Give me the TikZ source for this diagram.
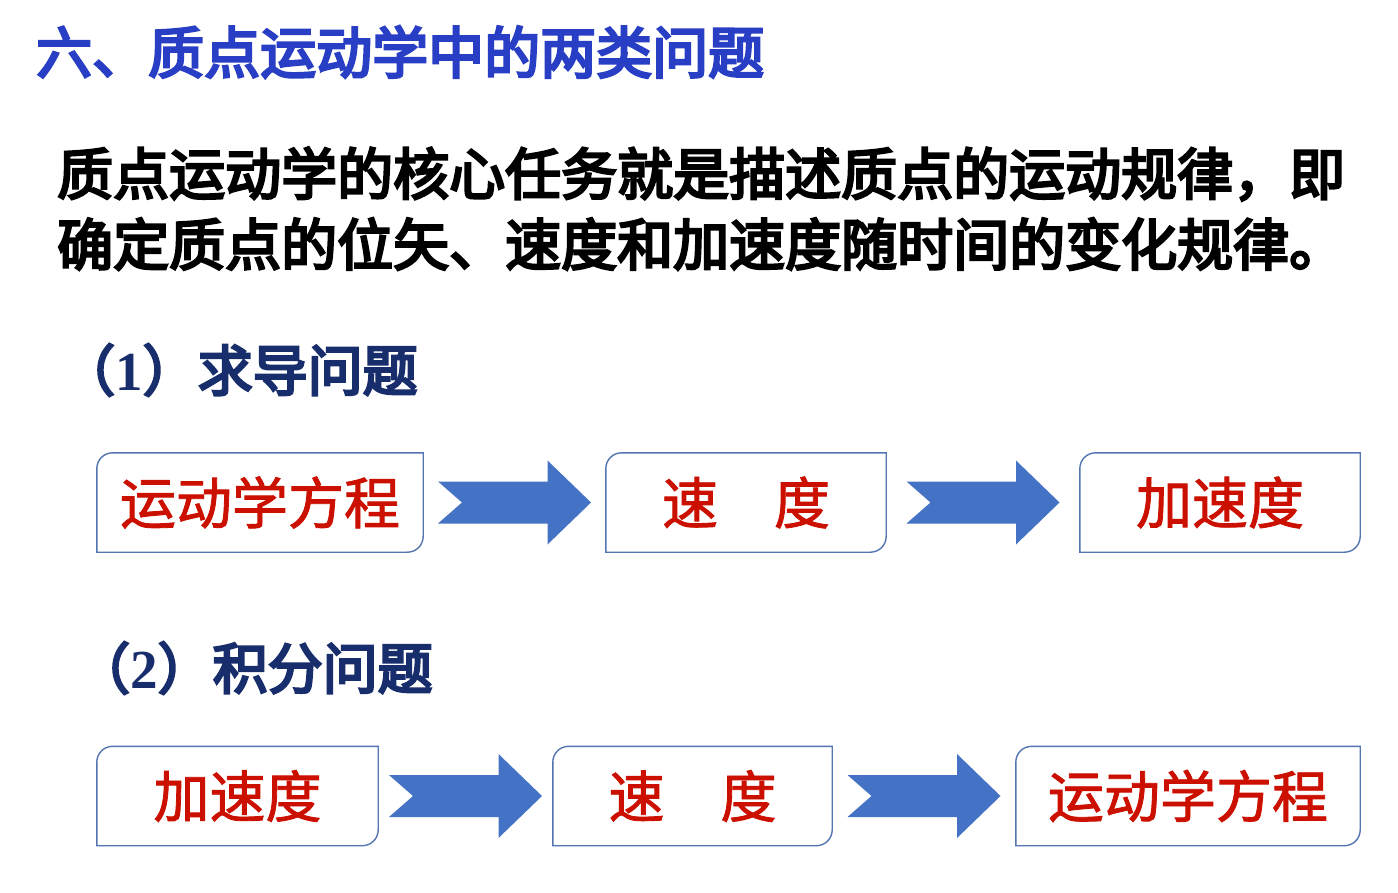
\documentclass[tikz,border=0pt]{standalone}
\usepackage{fontspec}
\newfontfamily\cjk{Noto Sans CJK SC}[FakeBold=1.5]
\newfontfamily\cjkmid{Noto Sans CJK SC}[FakeBold=4.5]
\newfontfamily\numfont{Liberation Serif}
\usepackage{tikz}
\usetikzlibrary{calc}
\definecolor{titleblue}{RGB}{40,62,196}
\definecolor{headnavy}{RGB}{24,46,108}
\definecolor{boxred}{RGB}{204,16,0}
\definecolor{boxline}{RGB}{84,116,178}
\definecolor{arrowblue}{RGB}{68,114,196}

\begin{document}
\begin{tikzpicture}[x=1pt, y=-1pt,
    title/.style={anchor=west, inner sep=0pt, text=titleblue,
                  font=\cjkmid\fontsize{56pt}{60pt}\selectfont},
    para/.style={anchor=west, inner sep=0pt, text=black,
                 font=\cjkmid\fontsize{56pt}{60pt}\selectfont},
    head/.style={anchor=west, inner sep=0pt, text=headnavy,
                 font=\cjkmid\fontsize{55pt}{60pt}\selectfont},
    box/.style={rectangle, inner sep=0pt, minimum height=99pt, text=boxred,
                font=\cjk\fontsize{56pt}{60pt}\selectfont},
    frame/.style={draw=boxline, line width=1.4pt},
    blockarr/.style={fill=arrowblue, to path={
        ($(\tikztostart)!.5!(\tikztotarget)+(-76.5,21)$) -- ++(109.5,0) -- ++(0,21)
        -- ++(43.5,-42) -- ++(-43.5,-42) -- ++(0,21) -- ++(-109.5,0) -- ++(24,21) -- cycle}},
  ]
    \path[use as bounding box, fill=white] (0,0) rectangle (1398,892);

    \node[title] (ttl) at (36,52) {六、质点运动学中的两类问题};
    \node[para]  (p1)  at (57,174) {质点运动学的核心任务就是描述质点的运动规律，即};
    \node[para]  (p2)  at (57,244) {确定质点的位矢、速度和加速度随时间的变化规律。};

    % (1) derivative problem
    \node[head] (h1) at (60,370) {（{\numfont\bfseries 1}）求导问题};
    \node[box, minimum width=326pt] (a1) at (260,502.5)  {运动学方程};
    \node[box, minimum width=280pt] (a2) at (746,502.5)  {速　度};
    \node[box, minimum width=280pt] (a3) at (1220,502.5) {加速度};

    % (2) integral problem
    \node[head] (h2) at (75,668) {（{\numfont\bfseries 2}）积分问题};
    \node[box, minimum width=281pt] (b1) at (237.5,796) {加速度};
    \node[box, minimum width=279pt] (b2) at (692.5,796) {速　度};
    \node[box, minimum width=344pt] (b3) at (1188,796)  {运动学方程};

    % frames: round top-left and bottom-right corners only
    \foreach \n in {a1,a2,a3,b1,b2,b3}
      \draw[frame] ($(\n.north west)+(16pt,0pt)$) -- (\n.north east)
        -- ($(\n.south east)+(0pt,16pt)$)
        .. controls ($(\n.south east)+(0pt,7pt)$) and ($(\n.south east)+(-7pt,0pt)$)
        .. ($(\n.south east)+(-16pt,0pt)$)
        -- (\n.south west) -- ($(\n.north west)+(0pt,-16pt)$)
        .. controls ($(\n.north west)+(0pt,-7pt)$) and ($(\n.north west)+(7pt,0pt)$)
        .. ($(\n.north west)+(16pt,0pt)$) -- cycle;

    \path[blockarr] (a1.east) to (a2.west);
    \path[blockarr] (a2.east) to (a3.west);
    \path[blockarr] (b1.east) to (b2.west);
    \path[blockarr] (b2.east) to (b3.west);
  \end{tikzpicture}
\end{document}
